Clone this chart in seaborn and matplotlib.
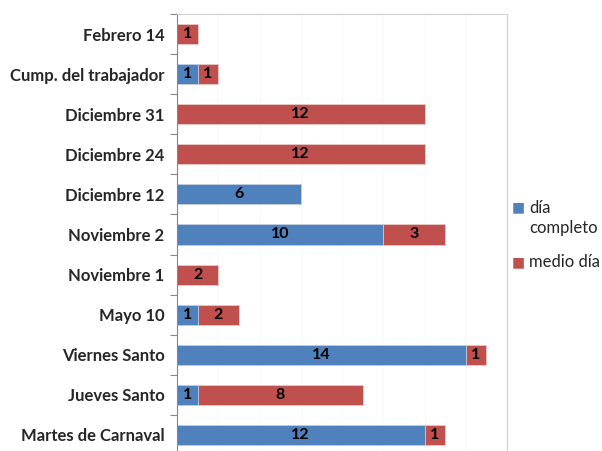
import numpy as np
import pandas as pd
import matplotlib
matplotlib.use("Agg")
import matplotlib.pyplot as plt
import seaborn as sb

fechas = ["Febrero 14", "Cump. del trabajador", "Diciembre 31", "Diciembre 24",
          "Diciembre 12", "Noviembre 2", "Noviembre 1", "Mayo 10",
          "Viernes Santo", "Jueves Santo", "Martes de Carnaval"]
dia_completo = [0, 1, 0, 0, 6, 10, 0, 1, 14, 1, 12]
medio_dia = [1, 1, 12, 12, 0, 3, 2, 2, 1, 8, 1]

azul = "#4F81BD"
rojo = "#C0504D"

sb.set_style("white")
plt.rcParams['font.family'] = ['Lato', 'DejaVu Sans']

t = pd.DataFrame({"fecha": fechas, "completo": dia_completo, "medio": medio_dia})
t["total"] = t["completo"] + t["medio"]

fig = plt.figure(figsize=(6.02, 4.51), dpi=100)
ax = fig.add_axes([177/602, -4/451, 330/602, 441/451])

# rojo = total, azul encima = dia completo
sb.barplot(data=t, x="total", y="fecha", orient="h", color=rojo, saturation=1,
           width=0.5, ax=ax, edgecolor="#e8c8c7", linewidth=0.6)
sb.barplot(data=t, x="completo", y="fecha", orient="h", color=azul, saturation=1,
           width=0.5, ax=ax, edgecolor="#c5d3e6", linewidth=0.6)

for i in range(len(fechas)):
    c = dia_completo[i]
    m = medio_dia[i]
    if c > 0:
        ax.text(c/2, i, str(c), ha="center", va="center", fontsize=11.5,
                fontweight="bold", color="black")
    if m > 0:
        ax.text(c + m/2, i, str(m), ha="center", va="center", fontsize=11.5,
                fontweight="bold", color="black")

ax.set_xlim(0, 16)
ax.set_ylim(len(fechas) - 0.5, -0.5)
ax.set_xticks(np.arange(0, 17, 2))
ax.xaxis.grid(True, color="#fafafa", linewidth=0.8)
ax.set_axisbelow(True)
ax.set_xticklabels([])
ax.tick_params(axis="x", length=0)
ax.set_yticks(np.arange(len(fechas) + 1) - 0.5, minor=True)
ax.tick_params(axis="y", which="minor", length=5, color="#868686", width=0.8, left=True)
ax.tick_params(axis="y", which="major", length=0, pad=9, labelsize=12)
for lab in ax.get_yticklabels():
    lab.set_fontweight("bold")
ax.set_xlabel("")
ax.set_ylabel("")
for s in ["top", "right", "bottom"]:
    ax.spines[s].set_color("#d0d0d0")
    ax.spines[s].set_linewidth(0.8)
ax.spines["left"].set_color("#868686")
ax.spines["left"].set_linewidth(0.8)

fig.text(512/602, 1 - 207/451, "■", color=azul, fontsize=10, va="center", ha="left",
         family=["DejaVu Sans"])
fig.text(529/602, 1 - 218/451, "día\ncompleto", fontsize=12, va="center", ha="left",
         linespacing=1.25)
fig.text(512/602, 1 - 262/451, "■", color=rojo, fontsize=10, va="center", ha="left",
         family=["DejaVu Sans"])
fig.text(529/602, 1 - 262/451, "medio día", fontsize=12, va="center", ha="left")

fig.savefig("out.png", dpi=100)
